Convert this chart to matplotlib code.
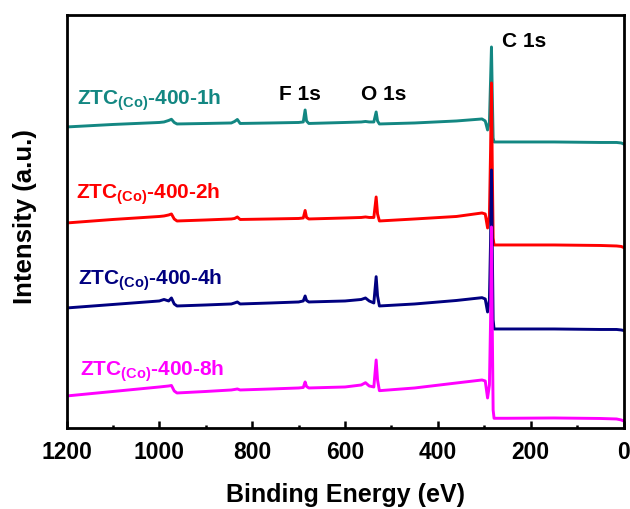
import matplotlib
matplotlib.use("Agg")
import matplotlib.pyplot as plt
from matplotlib.ticker import MultipleLocator

plt.rcParams["font.family"] = ["Liberation Sans", "DejaVu Sans"]
plt.rcParams["font.weight"] = "bold"
plt.rcParams["mathtext.fontset"] = "custom"
plt.rcParams["mathtext.rm"] = "Liberation Sans:bold"
plt.rcParams["mathtext.bf"] = "Liberation Sans:bold"

# binding energies (eV) shared by all survey scans
energy = [1200, 1100, 1000, 990, 980, 974, 968, 962, 900, 845, 838, 832, 826,
          760, 700, 690, 686, 683, 678, 600, 565, 556, 548, 538, 533, 530, 526,
          450, 360, 305, 298, 293, 289, 286.5, 284.6, 283, 281, 279,
          250, 150, 50, 15, 5, 0]

# stacked intensities (a.u.)
int_1h = [303, 305.5, 307.5, 308, 309.5, 310.7, 307.5, 306, 306.5, 307, 308.5, 310.5, 306.5,
          307, 307.5, 308, 320, 309, 306.5, 307.5, 308, 308.5, 308, 308, 318, 309, 306,
          307, 309, 311, 309, 300, 308, 350, 383, 340, 292, 288,
          288, 288, 287.5, 287.5, 287, 286]
int_2h = [207, 210.5, 213.5, 214, 215, 216, 211, 209, 210, 211, 211.5, 213, 210.5,
          211, 211.5, 212, 219.5, 212.5, 211, 212, 212.5, 213, 212.5, 212.5, 233, 216, 209,
          211, 213.5, 217, 216, 202, 215, 280, 347, 270, 192, 185,
          185, 185, 184.5, 184, 183.5, 182.5]
int_4h = [122, 125.5, 129, 130.5, 129, 132, 126, 124, 125, 126, 127, 128, 126,
          127, 128, 129, 134, 129.5, 128, 129, 130.5, 132, 129, 127, 153.3, 134, 124,
          126, 129.5, 132.3, 131, 118, 130, 190, 260, 190, 110, 101,
          101, 101, 100.5, 100.5, 100, 99.5]
int_8h = [34, 38.5, 43, 43.5, 44, 44.5, 39, 37, 38.5, 40, 40.5, 41, 40,
          41, 42, 42.5, 48, 43.5, 42, 43, 45, 47.3, 44, 43, 70, 50, 39.3,
          42, 47, 50, 49, 32, 45, 110, 203, 110, 20, 11.7,
          11.7, 12, 11.5, 11, 10, 9]

labels = [r"ZTC$_{\mathbf{(Co)}}$-400-1h", r"ZTC$_{\mathbf{(Co)}}$-400-2h",
          r"ZTC$_{\mathbf{(Co)}}$-400-4h", r"ZTC$_{\mathbf{(Co)}}$-400-8h"]
colors = ["#138782", "#ff0000", "#000080", "#ff00ff"]
label_pos = [(1177, 325.5), (1180, 232), (1175, 145.7), (1170, 55)]

peak_names = ["F 1s", "O 1s", "C 1s"]
peak_pos = [(743, 330), (565, 330), (262, 383)]

fig = plt.figure(figsize=(6.3, 5.09), dpi=100)
ax = fig.add_axes([0.1056, 0.1582, 0.8842, 0.8124])

for ys, c in zip([int_1h, int_2h, int_4h, int_8h], colors):
    ax.plot(energy, ys, color=c, lw=2.1, solid_joinstyle="round")

for lab, c, (x, y) in zip(labels, colors, label_pos):
    ax.text(x, y, lab, color=c, fontsize=15, fontweight="bold", va="baseline")

for name, (x, y) in zip(peak_names, peak_pos):
    ax.text(x, y, name, color="black", fontsize=15, fontweight="bold", va="baseline")

ax.set_xlim(1200, 0)
ax.set_ylim(1.5, 415)
ax.xaxis.set_major_locator(MultipleLocator(200))
ax.xaxis.set_minor_locator(MultipleLocator(100))
ax.tick_params(axis="x", which="major", direction="in", length=5, width=1.8,
               labelsize=16.5, pad=9, top=False)
ax.tick_params(axis="x", which="minor", direction="in", length=2.5, width=1.8, top=False)
ax.set_yticks([])
for sp in ax.spines.values():
    sp.set_linewidth(2.0)

ax.set_xlabel("Binding Energy (eV)", fontsize=18, fontweight="bold", labelpad=14)
ax.set_ylabel("Intensity (a.u.)", fontsize=18.5, fontweight="bold")
ax.yaxis.set_label_coords(-0.053, 0.513)

fig.savefig("out.png", dpi=100)
